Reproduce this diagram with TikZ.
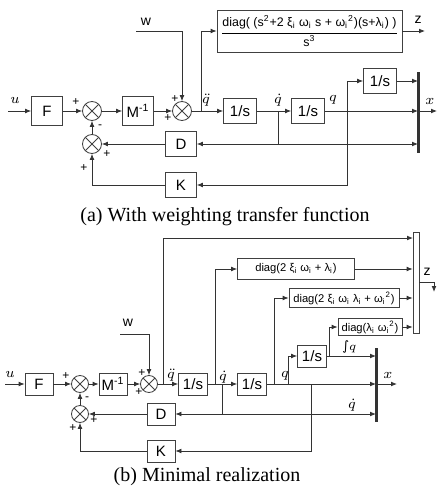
\documentclass[tikz,border=0pt]{standalone}
\usepackage{fontspec}
\setmainfont{Liberation Sans}
\newfontfamily\capfont{Liberation Serif}
\newfontfamily\symbfont{DejaVu Sans}
\usetikzlibrary{arrows.meta}
\tikzset{
  blk/.style={draw=black!75, rectangle, inner sep=1pt},
  sumjn/.style={draw=black!75, circle, minimum size=#1, inner sep=0pt,
    path picture={\draw[black!75] (path picture bounding box.north west) -- (path picture bounding box.south east)
      (path picture bounding box.north east) -- (path picture bounding box.south west);}},
  sgn/.style={inner sep=0pt, font=\fontsize{6}{6}\selectfont},
  lbl/.style={inner sep=0pt, font=\fontsize{7}{8}\selectfont},
  gsmall/.style={blk, inner sep=0.5pt, font=\fontsize{5.6}{6.5}\selectfont}
}
\begin{document}
\begin{tikzpicture}[x=0.5pt, y=-0.5pt, >={Latex[length=3pt,width=2.4pt]},
  every node/.append style={font=\fontsize{7.5}{9}\selectfont}, draw=black!80]
\useasboundingbox (0,0) rectangle (438,498);

% (a) Define node positions
\coordinate (uA) at (8,111);
\node[blk, minimum width=15.5pt, minimum height=14.5pt] (FA) at (47,111) {F};
\node[sumjn=9.5pt] (SA1) at (92,111) {};
\node[blk, minimum width=15.5pt, minimum height=14.5pt] (MA) at (138,111) {M\textsuperscript{-1}};
\node[sumjn=9.5pt] (SA2) at (182,111) {};
\node[sumjn=9.5pt] (SA3) at (92,144) {};
\coordinate (wA) at (136,31);
\node[blk, minimum width=16.5pt, minimum height=12.5pt] (IA1) at (240,111) {1/s};
\node[blk, minimum width=16.5pt, minimum height=12.5pt] (IA2) at (308,111) {1/s};
\node[blk, minimum width=16.5pt, minimum height=12.5pt] (IA3) at (380,81) {1/s};
\node[blk, minimum width=15.5pt, minimum height=12.5pt] (DA) at (181,144) {D};
\node[blk, minimum width=15.5pt, minimum height=12.5pt] (KA) at (181,185) {K};
\node[blk, minimum width=92.5pt, minimum height=21pt, inner sep=0pt, font=\fontsize{6.2}{7}\selectfont] (WA) at (309.5,31)
  {$\displaystyle\frac{\mbox{diag( (s\textsuperscript{2}+2 ξ\textsubscript{i} ω\textsubscript{i} s + ω\textsubscript{i}\textsuperscript{2})(s+λ\textsubscript{i}) )}}{\mbox{s\textsuperscript{3}}}$};
\coordinate (barAt) at (418,72);
\coordinate (barAb) at (418,153);
\coordinate (zA) at (425,31);
\coordinate (xA) at (437,111);
\coordinate (brA1) at (201,111);
\coordinate (brA2) at (278,111);
\coordinate (brA3) at (347,111);
\coordinate (dqA) at (278,144);

% (a) Draw arrows
\draw[->] (uA) -- (FA);
\draw[->] (FA) -- (SA1);
\draw[->] (SA1) -- (MA);
\draw[->] (MA) -- (SA2);
\draw[->] (wA) -| (SA2);
\draw[->] (SA2) -- (IA1);
\draw[->] (brA1) |- (WA.west);
\draw[->] (WA.east) -- (zA);
\draw[->] (IA1) -- (IA2);
\draw[->] (IA2) -- (IA2 -| barAt);
\draw[->] (brA3) |- (IA3);
\draw[->] (IA3) -- (IA3 -| barAt);
\draw[->] (brA2 -| barAt) -- (xA);
\draw (brA2) -- (dqA);
\draw[->] (dqA) -- (DA);
\draw[->] (dqA) -- (dqA -| barAt);
\draw[->] (brA3) |- (KA);
\draw[->] (DA) -- (SA3);
\draw[->] (KA) -| (SA3);
\draw[->] (SA3) -- (SA1);
\draw[line width=1.5pt] (barAt) -- (barAb);

% (a) labels and signs
\node[lbl] at (15,100) {$u$};
\node[lbl] at (146,22) {w};
\node[lbl] at (418,20) {z};
\node[lbl] at (206,100) {$\ddot{q}$};
\node[lbl] at (278,100) {$\dot{q}$};
\node[lbl] at (333,100) {$q$};
\node[lbl] at (430,101) {$x$};
\node[sgn] at (76,102) {+};
\node[sgn] at (100,127) {-};
\node[sgn] at (175,99) {+};
\node[sgn] at (168,118) {+};
\node[sgn] at (107,154) {+};
\node[sgn] at (84,168) {+};

\node[font=\capfont\fontsize{10}{12}\selectfont] (capA) at (225,217) {(a) With weighting transfer function};

% (b) Define node positions
\coordinate (uB) at (5,384);
\node[blk, minimum width=14pt, minimum height=11pt] (FB) at (39,384) {F};
\node[sumjn=8.5pt] (SB1) at (80,384) {};
\node[blk, minimum width=14pt, minimum height=11pt] (MB) at (113,384) {M\textsuperscript{-1}};
\node[sumjn=8.5pt] (SB2) at (149,384) {};
\node[sumjn=8.5pt] (SB3) at (80,414) {};
\coordinate (wB) at (120,334);
\node[blk, minimum width=14.5pt, minimum height=11pt] (IB1) at (193,384) {1/s};
\node[blk, minimum width=14.5pt, minimum height=11pt] (IB2) at (252,384) {1/s};
\node[blk, minimum width=14.5pt, minimum height=11pt] (IB3) at (312,356) {1/s};
\node[blk, minimum width=14pt, minimum height=11pt] (DB) at (161,414) {D};
\node[blk, minimum width=14pt, minimum height=11pt] (KB) at (161,451) {K};
\node[gsmall, minimum width=58.5pt, minimum height=10.5pt] (GB1) at (296,269) {diag(2 ξ\textsubscript{i} ω\textsubscript{i} + λ\textsubscript{i})};
\node[gsmall, minimum width=55pt, minimum height=9.5pt] (GB2) at (344,298) {diag(2 ξ\textsubscript{i} ω\textsubscript{i} λ\textsubscript{i} + ω\textsubscript{i}\textsuperscript{2})};
\node[gsmall, minimum width=32pt, minimum height=8.5pt] (GB3) at (370,327) {diag(λ\textsubscript{i} ω\textsubscript{i}\textsuperscript{2})};
\node[blk, minimum width=3pt, minimum height=50.5pt, inner sep=0pt] (mux) at (416,282.5) {};
\coordinate (mx1) at (413,238);
\coordinate (zB) at (434,292);
\coordinate (barBt) at (376,348);
\coordinate (barBb) at (376,422);
\coordinate (xB) at (397,384);
\coordinate (brB1) at (163,384);
\coordinate (brB2) at (215,384);
\coordinate (brB3) at (222,384);
\coordinate (dqB) at (222,414);
\coordinate (brB4) at (274,384);
\coordinate (brB5) at (288,384);
\coordinate (brB6) at (311,384);
\coordinate (brB7) at (329,356);

% (b) Draw arrows
\draw[->] (uB) -- (FB);
\draw[->] (FB) -- (SB1);
\draw[->] (SB1) -- (MB);
\draw[->] (MB) -- (SB2);
\draw[->] (wB) -| (SB2);
\draw[->] (SB2) -- (IB1);
\draw[->] (brB1) |- (mx1);
\draw[->] (IB1) -- (IB2);
\draw[->] (brB2) |- (GB1);
\draw (brB3) -- (dqB);
\draw[->] (dqB) -- (DB);
\draw[->] (dqB) -- (dqB -| barBt);
\draw[->] (IB2) -- (IB2 -| barBt);
\draw[->] (brB4) |- (GB2);
\draw[->] (brB5) |- (IB3);
\draw[->] (brB6) |- (KB);
\draw[->] (IB3) -- (IB3 -| barBt);
\draw[->] (brB7) |- (GB3);
\draw[->] (GB1) -- (GB1 -| mux.west);
\draw[->] (GB2) -- (GB2 -| mux.west);
\draw[->] (GB3) -- (GB3 -| mux.west);
\draw[->] (mux.east) -| (zB);
\draw[->] (IB2 -| barBt) -- (xB);
\draw[->] (DB) -- (SB3);
\draw[->] (KB) -| (SB3);
\draw[->] (SB3) -- (SB1);
\draw[line width=1.5pt] (barBt) -- (barBb);

% (b) labels and signs
\node[lbl] at (10,374) {$u$};
\node[lbl] at (128,323) {w};
\node[lbl] at (427,272) {z};
\node[lbl] at (171,375) {$\ddot{q}$};
\node[lbl] at (223,377) {$\dot{q}$};
\node[lbl] at (285,376) {$q$};
\node[lbl] at (352,405) {$\dot{q}$};
\node[lbl, anchor=south west, font=\fontsize{6.5}{7}\selectfont] at (342,354) {{\symbfont ∫}$q$};
\node[lbl] at (388,375) {$x$};
\node[sgn] at (66,376) {+};
\node[sgn] at (87,399) {-};
\node[sgn] at (142,373) {+};
\node[sgn] at (139,392) {+};
\node[sgn] at (94,420) {+};
\node[sgn] at (73,428) {+};

\node[font=\capfont\fontsize{10}{12}\selectfont] (capB) at (207,477) {(b) Minimal realization};
\end{tikzpicture}
\end{document}
